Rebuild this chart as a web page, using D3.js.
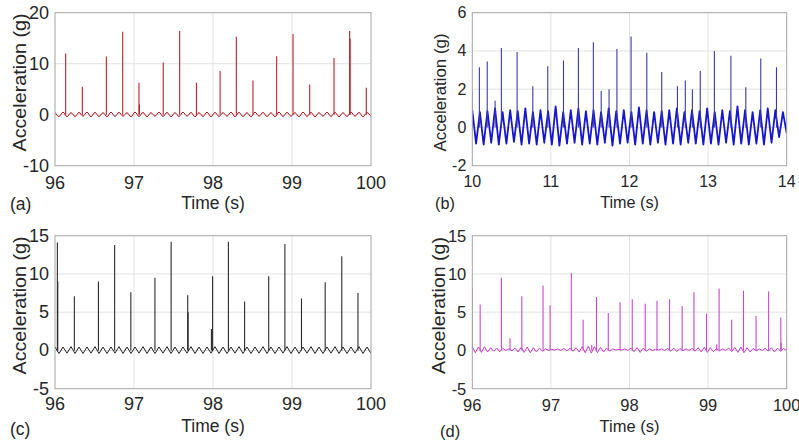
<!DOCTYPE html>
<html><head><meta charset="utf-8">
<script src="https://cdn.jsdelivr.net/npm/d3@7"></script>
<style>
html,body{margin:0;padding:0;background:#fff;}
svg{display:block;}
text{font-family:"Liberation Sans",Arial,Helvetica,sans-serif;fill:#262626;}
</style></head>
<body>
<svg id="chart" width="799" height="446"></svg>
<script>
// ---------- data ----------
const panelLetters = ["(a)", "(b)", "(c)", "(d)"];
const xLabelText = "Time (s)";
const yLabelText = "Acceleration (g)";

const aXTicks = [96, 97, 98, 99, 100];
const aYTicks = [-10, 0, 10, 20];
const bXTicks = [10, 11, 12, 13, 14];
const bYTicks = [-2, 0, 2, 4, 6];
const cXTicks = [96, 97, 98, 99, 100];
const cYTicks = [-5, 0, 5, 10, 15];
const dXTicks = [96, 97, 98, 99, 100];
const dYTicks = [-5, 0, 5, 10, 15];

// spikes: [time (s), peak acceleration (g)]
const aSpikes = [[96.135,12.0],[96.346,5.5],[96.65,11.4],[96.857,16.25],[97.063,6.25],[97.068,2.0],
  [97.37,10.25],[97.578,16.4],[97.79,6.25],[98.09,8.55],[98.295,15.3],[98.506,6.7],[98.806,11.45],
  [99.013,15.8],[99.224,5.9],[99.532,11.1],[99.73,16.4],[99.736,14.9],[99.94,5.3]];
const bSpikes = [[10.0,1.9],[10.09,3.15],[10.19,3.45],[10.29,1.4],[10.37,4.15],[10.57,3.95],[10.77,2.15],
  [10.96,3.2],[11.16,3.5],[11.35,4.15],[11.54,4.45],[11.64,1.9],[11.74,2.0],[11.84,4.1],[12.02,4.75],
  [12.22,3.9],[12.41,2.9],[12.61,2.15],[12.71,2.45],[12.80,2.0],[12.90,2.95],[13.08,4.0],[13.29,3.75],
  [13.48,2.1],[13.67,3.6],[13.87,3.15]];
const cSpikes = [[96.03,14.1],[96.035,9.0],[96.245,7.1],[96.55,9.0],[96.755,13.8],[96.96,7.6],[97.265,9.5],
  [97.47,14.2],[97.68,7.2],[97.685,5.0],[97.98,2.8],[97.995,9.7],[98.195,14.2],[98.40,6.4],[98.705,9.7],
  [98.91,13.9],[99.12,6.8],[99.42,8.9],[99.63,12.3],[99.835,7.5]];
const dSpikes = [[96.0,8.2],[96.10,6.0],[96.37,9.5],[96.48,1.6],[96.63,7.1],[96.90,8.5],[96.99,5.9],
  [97.26,10.1],[97.41,4.0],[97.52,0.7],[97.58,7.0],[97.73,4.9],[97.88,6.3],[98.035,6.7],[98.20,6.1],
  [98.35,6.5],[98.51,6.7],[98.67,5.8],[98.82,7.6],[98.98,4.8],[99.11,0.8],[99.14,8.1],[99.30,4.0],
  [99.45,7.8],[99.61,4.5],[99.77,7.7],[99.925,4.3],[99.93,1.0]];

// baseline oscillation extrema (alternating peak / trough), evenly spread over the time window
const aBase = [0.45,-0.35,0.5,-0.4,0.4,-0.35,0.45,-0.3,0.5,-0.4,
  0.45,-0.35,0.4,-0.4,0.5,-0.35,0.45,-0.3,0.4,-0.4,
  0.5,-0.35,0.45,-0.4,0.4,-0.3,0.5,-0.35,0.45,-0.4,
  0.4,-0.35,0.5,-0.3,0.45,-0.4,0.4,-0.35,0.5,-0.4,
  0.45,-0.35,0.4,-0.3,0.5,-0.4,0.45,-0.35,0.4,-0.4,
  0.5,-0.3,0.45,-0.35,0.4,-0.4,0.5,-0.35,0.45,-0.3,
  0.4,-0.4,0.5,-0.35,0.45,-0.4,0.4,-0.3,0.5,-0.35,
  0.45,-0.4,0.4,-0.35,0.5,-0.3,0.45,-0.4,0.4,-0.35];
const bBase = [0.9,-0.85,0.8,-0.9,0.85,-0.8,1.0,-0.9,0.8,-0.85,
  0.9,-0.75,0.85,-0.9,1.0,-0.85,0.8,-0.9,0.9,-0.8,
  0.85,-0.9,1.1,-0.95,0.8,-0.85,0.9,-0.8,1.0,-0.9,
  0.85,-0.85,0.9,-0.9,0.8,-0.8,1.0,-0.95,0.85,-0.85,
  0.9,-0.8,0.8,-0.9,1.05,-0.85,0.9,-0.9,0.8,-0.8,
  0.85,-0.9,0.9,-0.85,1.0,-0.9,0.8,-0.8,0.9,-0.85,
  0.85,-0.9,1.0,-0.85,0.8,-0.9,0.9,-0.8,0.85,-0.9,
  1.1,-0.85,0.9,-0.9,0.8,-0.85,0.9,-0.9,1.0,-0.8,
  0.9,-0.5,0.8,-0.3];
const cBase = [0.45,-0.4,0.45,-0.35,0.5,-0.4,0.45,-0.4,0.45,-0.35,
  0.5,-0.4,0.45,-0.4,0.45,-0.35,0.5,-0.4,0.45,-0.4,
  0.45,-0.35,0.5,-0.4,0.45,-0.4,0.45,-0.35,0.5,-0.4,
  0.45,-0.4,0.45,-0.35,0.5,-0.4,0.45,-0.4,0.45,-0.35,
  0.5,-0.4,0.45,-0.4,0.45,-0.35,0.5,-0.4,0.45,-0.4,
  0.45,-0.35,0.5,-0.4,0.45,-0.4,0.45,-0.35,0.5,-0.4,
  0.45,-0.4,0.45,-0.35,0.5,-0.4,0.45,-0.4,0.45,-0.35,
  0.5,-0.4,0.45,-0.4,0.45,-0.35,0.5,-0.4,0.45,-0.4];
const dBase = [0.5,-0.3,0.45,-0.25,0.5,-0.2,0.35,-0.1,0.3,-0.15,
  0.25,0.0,0.2,-0.05,0.3,-0.2,0.4,-0.25,0.45,-0.3,
  0.35,-0.2,0.3,-0.1,0.2,0.0,0.15,0.05,0.2,0.0,
  0.25,-0.05,0.3,-0.1,0.35,-0.2,0.5,-0.3,0.55,-0.35,
  0.5,-0.3,0.4,-0.2,0.3,-0.1,0.2,0.05,0.15,0.05,
  0.2,0.0,0.3,-0.15,0.35,-0.25,0.3,-0.1,0.2,0.0,
  0.15,0.05,0.2,0.0,0.25,-0.1,0.3,-0.15,0.25,-0.05,
  0.2,0.0,0.25,-0.1,0.35,-0.2,0.4,-0.25,0.35,-0.15,
  0.25,-0.05,0.2,0.0,0.3,-0.15,0.4,-0.25,0.45,-0.3,
  0.35,-0.2,0.25,-0.05,0.2,0.0,0.3,-0.1,0.35,-0.2,
  0.3,-0.1,0.25,0.0];

// ---------- layout / style ----------
const panels = [
  {letter: panelLetters[0], xTicks: aXTicks, yTicks: aYTicks, spikes: aSpikes, base: aBase,
   box: [55, 371, 12.7, 165.7], color: "#b3121c", spikeColor: "#b8222d", baseWidth: 1, curve: d3.curveMonotoneX,
   tickFs: 18, xlabFs: 17.5, ylabLen: 138, ylabX: 19, ylabY: 82.5, tickBase: 189.3, xlabBase: 209, letterX: 10, letterBase: 210},
  {letter: panelLetters[1], xTicks: bXTicks, yTicks: bYTicks, spikes: bSpikes, base: bBase,
   box: [472.3, 786.7, 12.7, 165.7], color: "#1616cc", spikeColor: "#3a3aa8", baseWidth: 1.8, curve: d3.curveLinear,
   tickFs: 16, xlabFs: 16.2, ylabLen: 118, ylabX: 440, ylabY: 92.5, tickBase: 186.7, xlabBase: 208, letterX: 435, letterBase: 209},
  {letter: panelLetters[2], xTicks: cXTicks, yTicks: cYTicks, spikes: cSpikes, base: cBase,
   box: [55, 371, 235.7, 388.7], color: "#222222", spikeColor: "#2a2a2a", baseWidth: 1, curve: d3.curveLinear,
   tickFs: 18, xlabFs: 17.5, ylabLen: 138, ylabX: 19, ylabY: 305.5, tickBase: 409.7, xlabBase: 432, letterX: 10, letterBase: 435},
  {letter: panelLetters[3], xTicks: dXTicks, yTicks: dYTicks, spikes: dSpikes, base: dBase,
   box: [472.3, 786.7, 235.7, 388.7], color: "#c23cc2", spikeColor: "#c84ac8", baseWidth: 1, curve: d3.curveLinear,
   tickFs: 16.5, xlabFs: 16.5, ylabLen: 137, ylabX: 438.5, ylabY: 305.5, tickBase: 411, xlabBase: 432, letterX: 440, letterBase: 437}
];

const svg = d3.select("#chart");
const defs = svg.append("defs");

panels.forEach((p, i) => {
  const [x0, x1, y0, y1] = p.box;
  const xDom = d3.extent(p.xTicks), yDom = d3.extent(p.yTicks);
  const x = d3.scaleLinear().domain(xDom).range([x0, x1]);
  const y = d3.scaleLinear().domain(yDom).range([y1, y0]);
  const g = svg.append("g");

  defs.append("clipPath").attr("id", "clip" + i)
    .append("rect").attr("x", x0).attr("y", y0).attr("width", x1 - x0).attr("height", y1 - y0);

  // grid
  g.append("g").selectAll("line").data(p.xTicks.slice(1, -1)).join("line")
    .attr("x1", d => x(d)).attr("x2", d => x(d)).attr("y1", y0).attr("y2", y1)
    .attr("stroke", "#e2e2e2").attr("stroke-width", 1);
  g.append("g").selectAll("line").data(p.yTicks.slice(1, -1)).join("line")
    .attr("y1", d => y(d)).attr("y2", d => y(d)).attr("x1", x0).attr("x2", x1)
    .attr("stroke", "#e2e2e2").attr("stroke-width", 1);

  const plot = g.append("g").attr("clip-path", `url(#clip${i})`);

  // baseline oscillation
  const n = p.base.length;
  const tStep = (xDom[1] - xDom[0]) / (n - 1);
  const pts = p.base.map((v, k) => [xDom[0] + k * tStep, v]);
  const line = d3.line().x(d => x(d[0])).y(d => y(d[1])).curve(p.curve);
  plot.append("path").datum(pts).attr("d", line)
    .attr("fill", "none").attr("stroke", p.color).attr("stroke-width", p.baseWidth)
    .attr("stroke-linejoin", "round");

  // impact spikes
  plot.append("g").selectAll("line").data(p.spikes).join("line")
    .attr("x1", d => x(d[0])).attr("x2", d => x(d[0]))
    .attr("y1", y(0)).attr("y2", d => y(d[1]))
    .attr("stroke", p.spikeColor).attr("stroke-width", 1.1);

  // box
  g.append("rect").attr("x", x0).attr("y", y0).attr("width", x1 - x0).attr("height", y1 - y0)
    .attr("fill", "none").attr("stroke", "#a3a3a3").attr("stroke-width", 1);

  // tick labels
  g.append("g").selectAll("text").data(p.xTicks).join("text")
    .attr("x", d => x(d)).attr("y", p.tickBase).attr("text-anchor", "middle")
    .style("font-size", p.tickFs + "px").text(d => d);
  g.append("g").selectAll("text").data(p.yTicks).join("text")
    .attr("x", x0 - 6).attr("y", d => y(d)).attr("text-anchor", "end")
    .attr("dominant-baseline", "central")
    .style("font-size", p.tickFs + "px").text(d => d);

  // axis labels
  g.append("text").attr("x", (x0 + x1) / 2).attr("y", p.xlabBase).attr("text-anchor", "middle")
    .style("font-size", p.xlabFs + "px").text(xLabelText);
  g.append("text").attr("transform", `translate(${p.ylabX},${p.ylabY}) rotate(-90)`)
    .attr("text-anchor", "middle").attr("dominant-baseline", "central")
    .attr("textLength", p.ylabLen).attr("lengthAdjust", "spacingAndGlyphs")
    .style("font-size", (p.ylabLen / 7.4) + "px").text(yLabelText);

  // panel letter
  g.append("text").attr("x", p.letterX).attr("y", p.letterBase)
    .style("font-size", (p.xlabFs) + "px").text(p.letter);
});
</script>
</body></html>
